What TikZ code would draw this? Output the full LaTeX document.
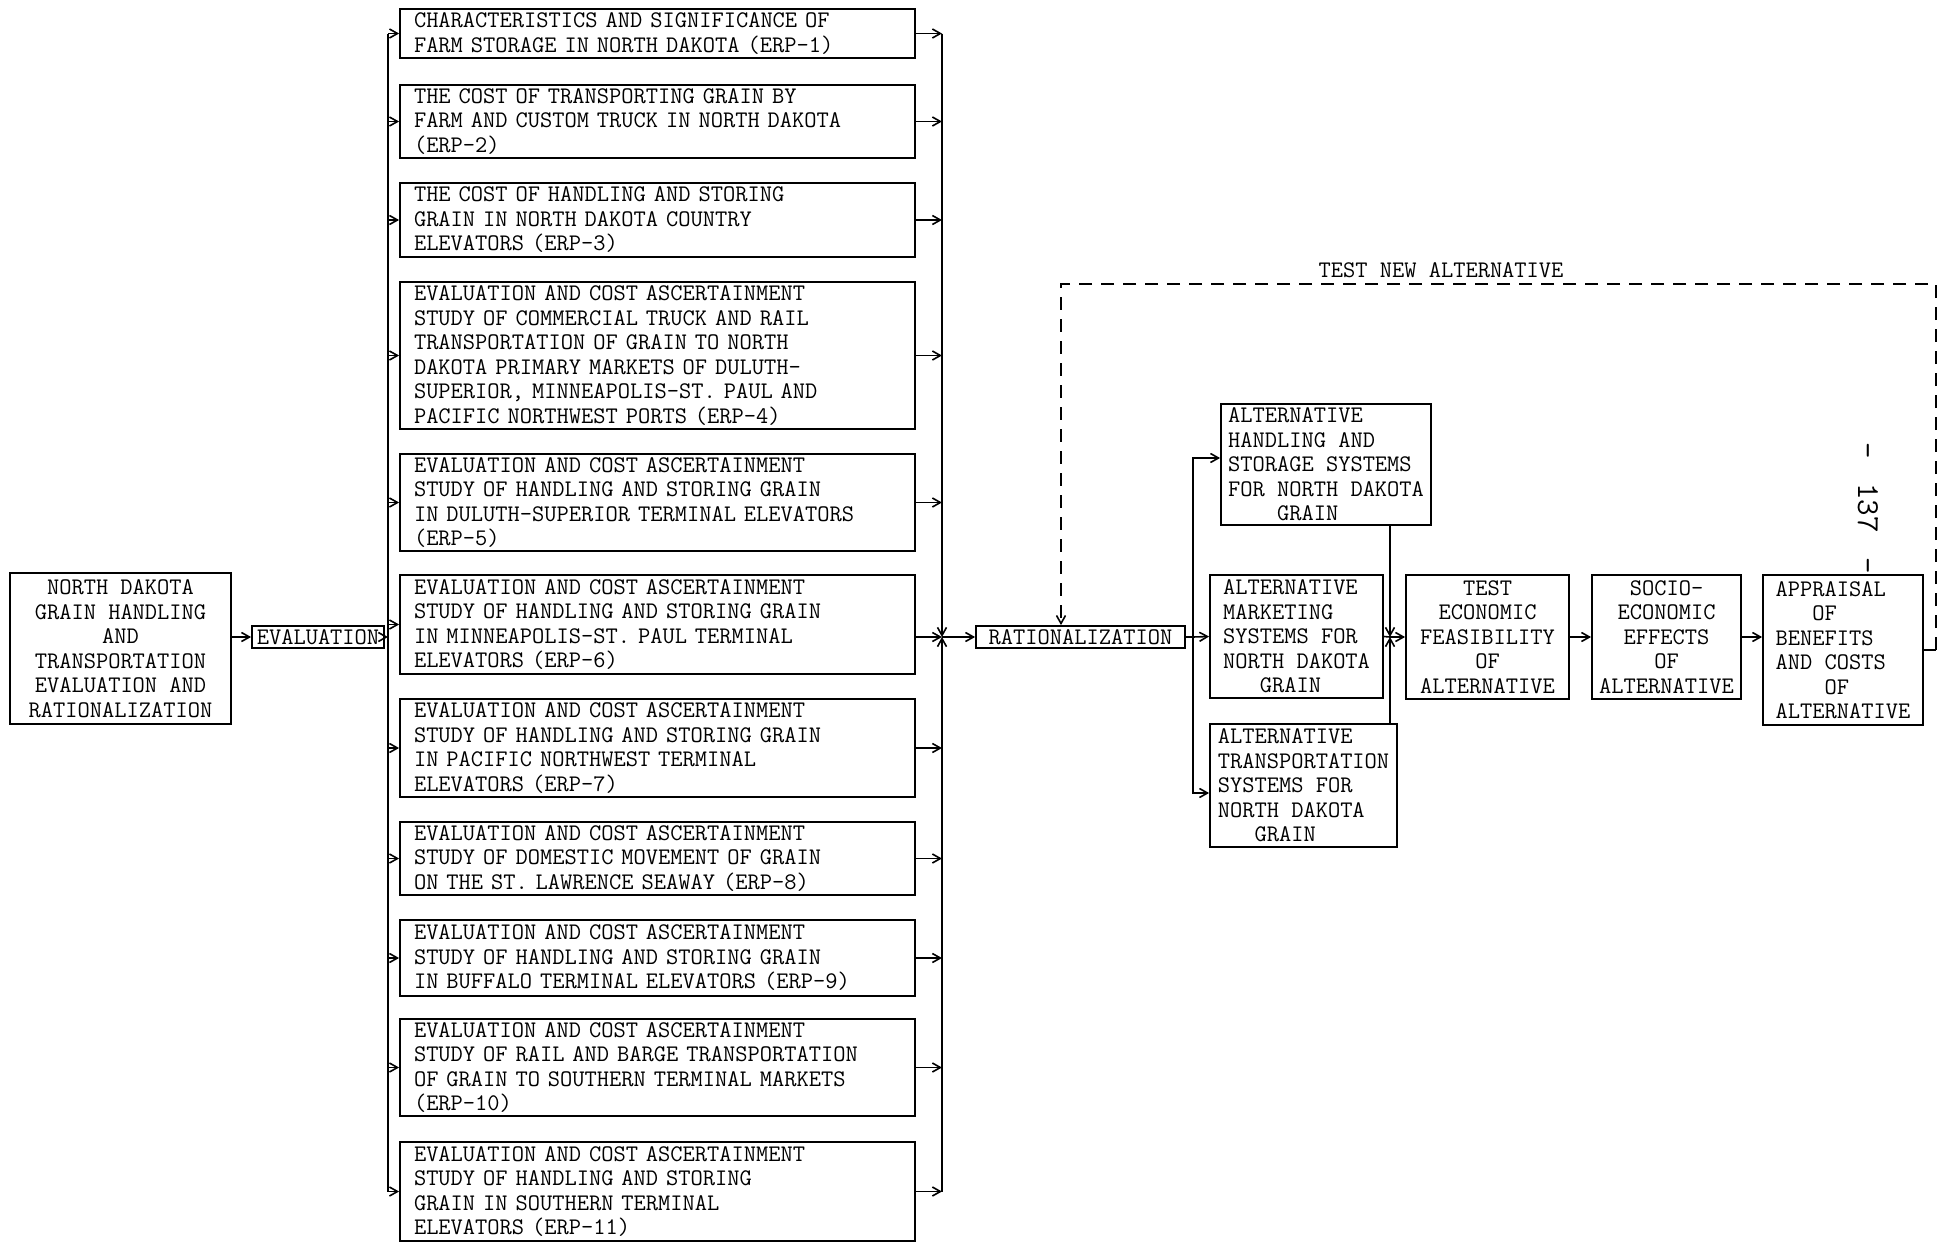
\documentclass[tikz,border=0pt]{standalone}
\usepackage{fontspec}
\usetikzlibrary{arrows.meta}
\begin{document}
\begin{tikzpicture}[x=0.5pt,y=-0.5pt,
  txt/.style={font=\ttfamily\fontsize{11.89pt}{12.25pt}\selectfont},
  box/.style={draw, line width=0.9pt, txt, inner ysep=0pt},
  erp/.style={box, align=left, text width=243.5pt, inner xsep=7pt},
  cbox/.style={box, align=center, inner xsep=1.5pt},
  lbox/.style={box, align=left, inner xsep=1.5pt},
  arr/.style={line width=0.8pt, -{Straight Barb[length=4pt,width=4.5pt]}},
  ln/.style={line width=0.8pt},
  dashline/.style={line width=0.8pt, dash pattern=on 6.5pt off 4.5pt}]
\fill[white] (0,0) rectangle (1950,1243);
\useasboundingbox (0,0) rectangle (1950,1243);

% left part
\node[cbox, minimum width=110.5pt, minimum height=75.5pt] (nd) at (120.5,648.5)
  {NORTH DAKOTA\\GRAIN HANDLING\\AND\\TRANSPORTATION\\EVALUATION AND\\RATIONALIZATION};
\node[cbox, minimum width=66pt, minimum height=11pt] (ev) at (318,637) {EVALUATION};

% ERP boxes
\node[erp, minimum height=24.5pt] (e1) at (657.5,33.5)
  {CHARACTERISTICS AND SIGNIFICANCE OF\\FARM STORAGE IN NORTH DAKOTA (ERP-1)};
\node[erp, minimum height=36.5pt] (e2) at (657.5,121.5)
  {THE COST OF TRANSPORTING GRAIN BY\\FARM AND CUSTOM TRUCK IN NORTH DAKOTA\\(ERP-2)};
\node[erp, minimum height=37pt] (e3) at (657.5,220)
  {THE COST OF HANDLING AND STORING\\GRAIN IN NORTH DAKOTA COUNTRY\\ELEVATORS (ERP-3)};
\node[erp, minimum height=73.5pt] (e4) at (657.5,355.5)
  {EVALUATION AND COST ASCERTAINMENT\\STUDY OF COMMERCIAL TRUCK AND RAIL\\TRANSPORTATION OF GRAIN TO NORTH\\DAKOTA PRIMARY MARKETS OF DULUTH-\\SUPERIOR, MINNEAPOLIS-ST. PAUL AND\\PACIFIC NORTHWEST PORTS (ERP-4)};
\node[erp, minimum height=48.5pt] (e5) at (657.5,502.5)
  {EVALUATION AND COST ASCERTAINMENT\\STUDY OF HANDLING AND STORING GRAIN\\IN DULUTH-SUPERIOR TERMINAL ELEVATORS\\(ERP-5)};
\node[erp, minimum height=49.5pt] (e6) at (657.5,624.5)
  {EVALUATION AND COST ASCERTAINMENT\\STUDY OF HANDLING AND STORING GRAIN\\IN MINNEAPOLIS-ST. PAUL TERMINAL\\ELEVATORS (ERP-6)};
\node[erp, minimum height=49pt] (e7) at (657.5,748)
  {EVALUATION AND COST ASCERTAINMENT\\STUDY OF HANDLING AND STORING GRAIN\\IN PACIFIC NORTHWEST TERMINAL\\ELEVATORS (ERP-7)};
\node[erp, minimum height=36.5pt] (e8) at (657.5,858.5)
  {EVALUATION AND COST ASCERTAINMENT\\STUDY OF DOMESTIC MOVEMENT OF GRAIN\\ON THE ST. LAWRENCE SEAWAY (ERP-8)};
\node[erp, minimum height=38pt] (e9) at (657.5,958)
  {EVALUATION AND COST ASCERTAINMENT\\STUDY OF HANDLING AND STORING GRAIN\\IN BUFFALO TERMINAL ELEVATORS (ERP-9)};
\node[erp, minimum height=48.5pt] (e10) at (657.5,1067.5)
  {EVALUATION AND COST ASCERTAINMENT\\STUDY OF RAIL AND BARGE TRANSPORTATION\\OF GRAIN TO SOUTHERN TERMINAL MARKETS\\(ERP-10)};
\node[erp, minimum height=49.5pt] (e11) at (657.5,1191.5)
  {EVALUATION AND COST ASCERTAINMENT\\STUDY OF HANDLING AND STORING\\GRAIN IN SOUTHERN TERMINAL\\ELEVATORS (ERP-11)};

% right part
\node[cbox, minimum width=104.5pt, minimum height=11pt] (rat) at (1080.5,637) {RATIONALIZATION};
\node[lbox, minimum width=105pt, minimum height=60.5pt] (ah) at (1326,464.5)
  {ALTERNATIVE\\HANDLING AND\\STORAGE SYSTEMS\\FOR NORTH DAKOTA\\\phantom{XXXX}GRAIN};
\node[lbox, minimum width=86.5pt, minimum height=61.5pt] (am) at (1296.5,636.5)
  {ALTERNATIVE\\MARKETING\\SYSTEMS FOR\\NORTH DAKOTA\\\phantom{XXX}GRAIN};
\node[lbox, minimum width=93.5pt, minimum height=61.5pt] (at) at (1303.5,785.5)
  {ALTERNATIVE\\TRANSPORTATION\\SYSTEMS FOR\\NORTH DAKOTA\\\phantom{XXX}GRAIN};
\node[cbox, minimum width=81.5pt, minimum height=62pt] (te) at (1487.5,637)
  {TEST\\ECONOMIC\\FEASIBILITY\\OF\\ALTERNATIVE};
\node[cbox, minimum width=74.5pt, minimum height=62pt] (so) at (1666.5,637)
  {SOCIO-\\ECONOMIC\\EFFECTS\\OF\\ALTERNATIVE};
\node[lbox, minimum width=80pt, minimum height=75pt] (ap) at (1843,650)
  {APPRAISAL\\\phantom{XXX}OF\\BENEFITS\\AND COSTS\\\phantom{XXXX}OF\\ALTERNATIVE};

\node[txt, inner sep=0pt] (tna) at (1441,270) {TEST NEW ALTERNATIVE};
\node[font=\ttfamily\fontsize{16pt}{18pt}\selectfont, rotate=-90, inner sep=0pt] (pg) at (1868,508) {-\hspace{12.3pt}137\hspace{12.3pt}-};

% coordinates
\coordinate (lbx) at (388,0);
\coordinate (rbx) at (942,0);
\coordinate (rj) at (942,637);
\coordinate (dj) at (1193,637);
\coordinate (dtop) at (1193,458);
\coordinate (dbot) at (1193,793);
\coordinate (cj) at (1390,637);
\coordinate (lt) at (1061,284);
\coordinate (rt) at (1936,284);
\coordinate (rb) at (1936,650);

% left connectors
\draw[arr] (nd.east |- ev.west) -- (ev.west);
\draw[arr] (ev.east) -- (ev.east -| lbx);
\draw[ln] (e1.west -| lbx) -- (e11.west -| lbx);
\foreach \i in {1,...,11} \draw[arr] (e\i.west -| lbx) -- (e\i.west);
\foreach \i in {1,2,3,4,5,7,8,9,10,11} \draw[arr] (e\i.east) -- (e\i.east -| rbx);
\draw[arr] (e6.east |- rj) -- (rj);
\draw[arr] (e1.east -| rbx) -- (rj);
\draw[arr] (e11.east -| rbx) -- (rj);
\draw[arr] (rj) -- (rat.west);

% right connectors
\draw[ln] (rat.east) -- (dj);
\draw[arr] (dj) -- (dtop) -- (dtop -| ah.west);
\draw[arr] (dj) -- (dbot) -- (dbot -| at.west);
\draw[arr] (dj) -- (am.west);
\draw[arr] (ah.south -| cj) -- (cj);
\draw[arr] (at.north -| cj) -- (cj);
\draw[ln] (am.east) -- (cj);
\draw[arr] (cj) -- (te.west);
\draw[arr] (te.east) -- (so.west);
\draw[arr] (so.east) -- (so.east -| ap.west);

% feedback loop
\draw[ln] (ap.east |- rb) -- (rb);
\draw[dashline, arr] (rb) -- (rt) -- (lt) -- (lt |- rat.north);
\end{tikzpicture}
\end{document}
